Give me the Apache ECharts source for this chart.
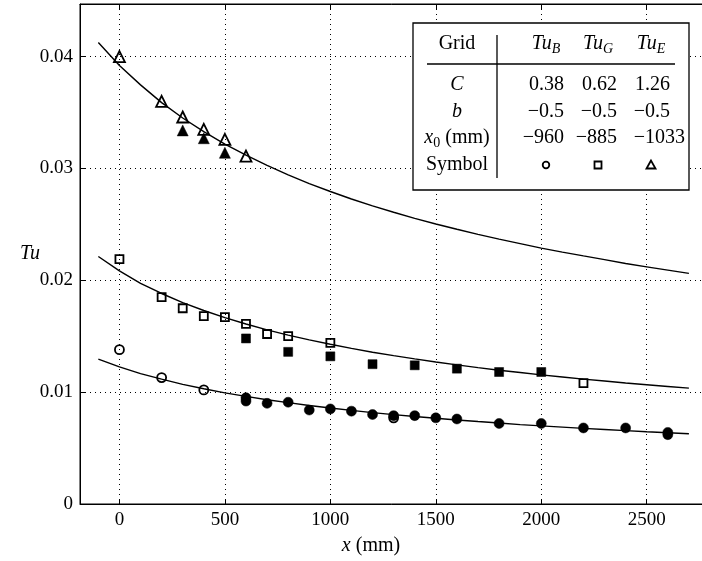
<!DOCTYPE html>
<html>
<head>
<meta charset="utf-8">
<script src="https://cdn.jsdelivr.net/npm/echarts@6/dist/echarts.min.js"></script>
<style>html,body{margin:0;padding:0;background:#fff;}#c{width:702px;height:561px;}</style>
</head>
<body>
<div id="c"></div>
<script>
// ---- data ----
const xTicks = [0, 500, 1000, 1500, 2000, 2500];
const yTicks = [0, 0.01, 0.02, 0.03, 0.04];

// fitted curves (x, Tu), every 100 mm
const curveX = [-100, 0, 100, 200, 300, 400, 500, 600, 700, 800, 900, 1000, 1100, 1200, 1300, 1400,
  1500, 1600, 1700, 1800, 1900, 2000, 2100, 2200, 2300, 2400, 2500, 2600, 2700];
const curveE = [0.04125, 0.03920, 0.03747, 0.03588, 0.03451, 0.03329, 0.03218, 0.03118, 0.03027, 0.02943,
  0.02865, 0.02794, 0.02727, 0.02665, 0.02608, 0.02554, 0.02503, 0.02456, 0.02411, 0.02368,
  0.02328, 0.02288, 0.02252, 0.02218, 0.02185, 0.02150, 0.02120, 0.02091, 0.02062];
const curveG = [0.02213, 0.02084, 0.01973, 0.01882, 0.01801, 0.01730, 0.01666, 0.01609, 0.01557, 0.01510,
  0.01467, 0.01428, 0.01391, 0.01357, 0.01326, 0.01297, 0.01270, 0.01244, 0.01219, 0.01196,
  0.01175, 0.01154, 0.01135, 0.01116, 0.01099, 0.01082, 0.01066, 0.01051, 0.01036];
const curveB = [0.01296, 0.01226, 0.01166, 0.01116, 0.01069, 0.01030, 0.00993, 0.00962, 0.00932, 0.00906,
  0.00881, 0.00858, 0.00837, 0.00817, 0.00799, 0.00782, 0.00766, 0.00751, 0.00737, 0.00724,
  0.00710, 0.00698, 0.00687, 0.00676, 0.00666, 0.00656, 0.00646, 0.00637, 0.00628];

// Tu_E triangles
const triOpenX = [0, 200, 300, 400, 500, 600];
const triOpenY = [0.0400, 0.0360, 0.0346, 0.0335, 0.0326, 0.0311];
const triFillX = [300, 400, 500];
const triFillY = [0.0334, 0.0327, 0.0314];

// Tu_G squares
const sqOpenX = [0, 200, 300, 400, 500, 600, 700, 800, 1000, 2200];
const sqOpenY = [0.0219, 0.0185, 0.0175, 0.0168, 0.0167, 0.0161, 0.0152, 0.0150, 0.0144, 0.0108];
const sqFillX = [600, 800, 1000, 1200, 1400, 1600, 1800, 2000];
const sqFillY = [0.0148, 0.0136, 0.0132, 0.0125, 0.0124, 0.0121, 0.0118, 0.0118];

// Tu_B circles
const cirOpenX = [0, 200, 400, 1300];
const cirOpenY = [0.0138, 0.0113, 0.0102, 0.0077];
const cirFillX = [600, 600, 700, 800, 900, 1000, 1100, 1200, 1300, 1400, 1500, 1600, 1800, 2000, 2200, 2400, 2600, 2600];
const cirFillY = [0.0095, 0.0092, 0.0090, 0.0091, 0.0084, 0.0085, 0.0083, 0.0080, 0.0079, 0.0079, 0.0077, 0.0076, 0.0072, 0.0072, 0.0068, 0.0068, 0.0064, 0.0062];

// legend table
const tableCols = ['B', 'G', 'E'];
const tableC = ['0.38', '0.62', '1.26'];
const tableB = ['\u22120.5', '\u22120.5', '\u22120.5'];
const tableX0 = ['\u2212960', '\u2212885', '\u22121033'];

const zip = (xs, ys) => xs.map((x, i) => [x, ys[i]]);
const FONT = '"Liberation Serif", "DejaVu Serif", serif';

const chart = echarts.init(document.getElementById('c'), null, {renderer: 'canvas'});

function curve(ys) {
  return {type: 'line', data: zip(curveX, ys), smooth: false, symbol: 'none',
    lineStyle: {color: '#000', width: 1.4}, z: 2, silent: true};
}
function marks(xs, ys, symbol, size, filled) {
  return {type: 'scatter', data: zip(xs, ys), symbol: symbol, symbolSize: size,
    itemStyle: filled ? {color: '#000', borderColor: '#000', borderWidth: 0.5, opacity: 1}
                      : {color: 'rgba(0,0,0,0)', borderColor: '#000', borderWidth: 1.8, opacity: 1},
    z: 3, silent: true};
}

const option = {
  backgroundColor: '#fff',
  animation: false,
  grid: {left: 80, top: 4, width: 630, bottom: 57, show: true, borderColor: '#000', borderWidth: 1,
    containLabel: false, outerBoundsMode: 'none'},
  xAxis: [{
    type: 'value', min: -187, max: 2800, position: 'bottom',
    name: '{i|x} (mm)', nameLocation: 'middle', nameGap: 32, nameMoveOverlap: false,
    nameTextStyle: {fontFamily: FONT, fontSize: 20, color: '#000', padding: [0, 48, 0, 0],
      rich: {i: {fontStyle: 'italic', fontFamily: FONT, fontSize: 20, color: '#000'}}},
    axisLine: {show: true, onZero: false, lineStyle: {color: '#000', width: 1}},
    axisTick: {show: true, inside: true, length: 5, lineStyle: {color: '#000'}, customValues: xTicks},
    axisLabel: {customValues: xTicks, fontFamily: FONT, fontSize: 19, color: '#000', margin: 7,
      formatter: v => String(v)},
    splitLine: {show: true, lineStyle: {color: '#000', type: [1, 4], width: 1}}
  }, {
    type: 'value', min: -187, max: 2800, position: 'top',
    axisLine: {show: true, onZero: false, lineStyle: {color: '#000', width: 1}},
    axisTick: {show: true, inside: true, length: 5, lineStyle: {color: '#000'}, customValues: xTicks},
    axisLabel: {show: false, customValues: xTicks},
    splitLine: {show: false}
  }],
  yAxis: {
    type: 'value', min: 0, max: 0.0447, interval: 0.01,
    name: 'Tu', nameLocation: 'middle', nameRotate: 0, nameGap: 40, nameMoveOverlap: false,
    nameTextStyle: {fontFamily: FONT, fontSize: 20, fontStyle: 'italic', color: '#000'},
    axisLine: {show: true, onZero: false, lineStyle: {color: '#000', width: 1}},
    axisTick: {show: true, inside: true, length: 5, lineStyle: {color: '#000'}},
    axisLabel: {fontFamily: FONT, fontSize: 19, color: '#000', margin: 7, showMaxLabel: false,
      formatter: v => (v === 0 ? '0' : String(+v.toFixed(3)))},
    splitLine: {show: true, lineStyle: {color: '#000', type: [1, 4], width: 1}}
  },
  series: [
    curve(curveE), curve(curveG), curve(curveB),
    marks(triOpenX, triOpenY, 'triangle', 11, false),
    marks(triFillX, triFillY, 'triangle', 11, true),
    marks(sqOpenX, sqOpenY, 'rect', 8, false),
    marks(sqFillX, sqFillY, 'rect', 9, true),
    marks(cirOpenX, cirOpenY, 'circle', 9, false),
    marks(cirFillX, cirFillY, 'circle', 10, true)
  ]
};

// legend table as graphic annotation
const colX = [546, 598, 651];
const valRight = [564, 617, 670];
const rowY = {head: 44, C: 85, b: 112, x0: 138, sym: 165};
const labelX = 457;
const FS = 20;
function txt(x, y, text, align, rich, italic) {
  const style = {text: text, fill: '#000', font: (italic ? 'italic ' : '') + FS + 'px ' + FONT,
    align: align || 'center', verticalAlign: 'middle'};
  if (rich) style.rich = rich;
  return {type: 'text', x: x, y: y, z: 100, style: style};
}
const richTu = {
  i: {fontStyle: 'italic', fontFamily: FONT, fontSize: FS, fill: '#000', lineHeight: 22},
  s: {fontStyle: 'italic', fontFamily: FONT, fontSize: 14, fill: '#000', padding: [11, 0, 0, 0], lineHeight: 22}
};
const richX0 = {
  i: {fontStyle: 'italic', fontFamily: FONT, fontSize: FS, fill: '#000', lineHeight: 22},
  s: {fontFamily: FONT, fontSize: 14, fill: '#000', padding: [11, 0, 0, 0], lineHeight: 22},
  n: {fontFamily: FONT, fontSize: FS, fill: '#000', lineHeight: 22}
};

const g = [];
g.push({type: 'rect', z: 99, shape: {x: 413, y: 23, width: 276, height: 167},
  style: {fill: '#fff', stroke: '#000', lineWidth: 1.3}});
g.push({type: 'line', z: 100, shape: {x1: 427, y1: 64, x2: 675, y2: 64}, style: {stroke: '#000', lineWidth: 1.3}});
g.push({type: 'line', z: 100, shape: {x1: 497, y1: 35, x2: 497, y2: 178}, style: {stroke: '#000', lineWidth: 1.3}});
g.push(txt(labelX, rowY.head, 'Grid'));
tableCols.forEach((c, i) => g.push(txt(colX[i], rowY.head, '{i|Tu}{s|' + c + '}', 'center', richTu)));
g.push(txt(labelX, rowY.C, 'C', 'center', null, true));
g.push(txt(labelX, rowY.b, 'b', 'center', null, true));
g.push(txt(labelX, rowY.x0, '{i|x}{s|0}{n| (mm)}', 'center', richX0));
g.push(txt(labelX, rowY.sym, 'Symbol'));
tableC.forEach((v, i) => g.push(txt(valRight[i], rowY.C, v, 'right')));
tableB.forEach((v, i) => g.push(txt(valRight[i], rowY.b, v, 'right')));
tableX0.forEach((v, i) => g.push(txt(valRight[i] + (i === 2 ? 15 : 0), rowY.x0, v, 'right')));
g.push({type: 'circle', z: 100, shape: {cx: colX[0], cy: rowY.sym, r: 3.3}, style: {fill: '#fff', stroke: '#000', lineWidth: 1.8}});
g.push({type: 'rect', z: 100, shape: {x: colX[1] - 3.5, y: rowY.sym - 3.5, width: 7, height: 7}, style: {fill: '#fff', stroke: '#000', lineWidth: 1.8}});
g.push({type: 'polygon', z: 100, shape: {points: [[colX[2], rowY.sym - 4.5], [colX[2] - 4.5, rowY.sym + 3.5], [colX[2] + 4.5, rowY.sym + 3.5]]}, style: {fill: '#fff', stroke: '#000', lineWidth: 1.8}});
option.graphic = g;

chart.setOption(option);
</script>
</body>
</html>
